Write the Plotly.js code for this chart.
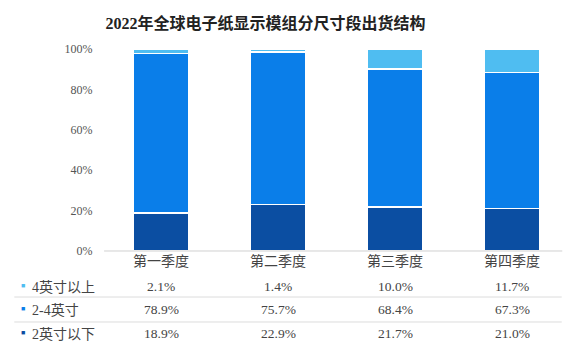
<!DOCTYPE html>
<html>
<head>
<meta charset="utf-8">
<script src="https://cdn.plot.ly/plotly-3.0.1.min.js"></script>
<style>html,body{margin:0;padding:0;background:#fff;}#chart{width:572px;height:354px;}</style>
</head>
<body>
<div id="chart"></div>
<script>
var categories = ['第一季度', '第二季度', '第三季度', '第四季度'];
var seriesNames = ['2英寸以下', '2-4英寸', '4英寸以上'];
var below2 = [18.9, 22.9, 21.7, 21.0];
var mid24 = [78.9, 75.7, 68.4, 67.3];
var above4 = [2.1, 1.4, 10.0, 11.7];
var tickVals = [0, 20, 40, 60, 80, 100];
var tickText = ['0%', '20%', '40%', '60%', '80%', '100%'];

var colors = ['#0b4ea2', '#0a7ee9', '#4fbdf1'];
var serif = '"Liberation Serif", "Noto Sans CJK SC", serif';
var cjk = '"Liberation Serif", "Noto Sans CJK SC", sans-serif';

var seriesData = [below2, mid24, above4];
var traces = seriesData.map(function (vals, i) {
  return {
    type: 'bar', x: categories, y: vals, name: seriesNames[i],
    width: 0.48,
    marker: {color: colors[i], line: {color: '#ffffff', width: 1.5}},
    hoverinfo: 'x+y+name'
  };
});

// table rows (top to bottom): 4英寸以上, 2-4英寸, 2英寸以下
var rowOrder = [2, 1, 0];
var rowY = [0.1893, 0.1243, 0.0565];
var annotations = [];
rowOrder.forEach(function (si, r) {
  annotations.push({
    xref: 'paper', yref: 'paper', x: 0.041, y: rowY[r] + 0.004, xanchor: 'center', yanchor: 'middle',
    text: '■', showarrow: false, font: {size: 7, color: colors[si]}
  });
  annotations.push({
    xref: 'paper', yref: 'paper', x: 0.052, y: rowY[r], xanchor: 'left', yanchor: 'middle',
    text: seriesNames[si], showarrow: false, font: {family: cjk, size: 14, color: '#444'}
  });
  seriesData[si].forEach(function (v, c) {
    annotations.push({
      xref: 'x', yref: 'paper', x: categories[c], y: rowY[r], xanchor: 'center', yanchor: 'middle',
      text: v.toFixed(1) + '%', showarrow: false, font: {family: serif, size: 13.5, color: '#444'}
    });
  });
});

var shapes = [0.161, 0.0904].map(function (yy) {
  return {type: 'line', xref: 'paper', yref: 'paper', x0: 0.025, x1: 0.982, y0: yy, y1: yy,
          line: {color: '#dcdcdc', width: 1}};
});
shapes.push({type: 'line', xref: 'paper', yref: 'paper', x0: 0.182, x1: 0.983, y0: 0.291, y1: 0.291,
             line: {color: '#d0d0d0', width: 1}});

var layout = {
  width: 572, height: 354,
  margin: {l: 0, r: 0, t: 0, b: 0},
  paper_bgcolor: '#ffffff', plot_bgcolor: '#ffffff',
  barmode: 'stack',
  showlegend: false,
  title: {text: '<b>2022年全球电子纸显示模组分尺寸段出货结构</b>', x: 0.464, xanchor: 'center', y: 0.935, yanchor: 'middle',
          font: {family: '"Liberation Serif", "Noto Sans CJK SC", serif', size: 16, color: '#222'}},
  xaxis: {
    domain: [0.1792, 0.9974], range: [-0.5, 3.5],
    showgrid: false, zeroline: false, showline: false,
    ticks: '', tickfont: {family: cjk, size: 14, color: '#444'}
  },
  yaxis: {
    domain: [0.291, 0.8616], range: [0, 100],
    tickvals: tickVals, ticktext: tickText,
    showgrid: false, zeroline: false, showline: false, ticks: '',
    ticklabelstandoff: 9,
    tickfont: {family: serif, size: 12, color: '#555'}
  },
  annotations: annotations,
  shapes: shapes
};

Plotly.newPlot('chart', traces, layout, {displayModeBar: false, staticPlot: true});
</script>
</body>
</html>
